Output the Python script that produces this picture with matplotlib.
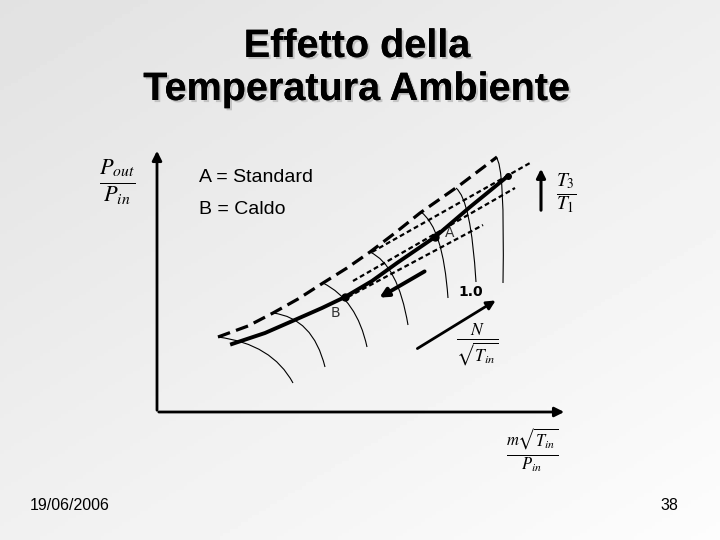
import numpy as np
import matplotlib.pyplot as plt
import matplotlib.patheffects as pe
from matplotlib.path import Path
from matplotlib.patches import PathPatch

plt.rcParams['mathtext.fontset'] = 'stix'

# schematic, in slide pixels (x right, y down)
surge_x = [218, 248, 273, 298, 323, 347, 370, 395, 420, 460, 497]
surge_y = [337, 326, 313, 299, 283, 268, 252, 233, 213, 185, 157]

running_x = [232, 265, 297, 322, 345, 372, 397, 435, 470, 508]
running_y = [344, 333, 319, 308, 297, 281, 263, 237, 207, 176]

# running lines for other T3/T1 (short dashes)
hot_lines = [
    ([372, 530], [252, 163]),
    ([353, 515], [281, 188]),
    ([348, 483], [297, 225]),
]

# constant speed lines: start, control, end
speed_lines = [
    [(218, 337), (272, 344), (293, 383)],
    [(273, 313), (313, 318), (325, 367)],
    [(323, 283), (357, 300), (367, 347)],
    [(370, 252), (398, 265), (408, 325)],
    [(421, 212), (443, 228), (448, 298)],
    [(456, 188), (471, 200), (476, 282)],
    [(496, 157), (505, 165), (503, 283)],
]

points = {'B': (345, 297), 'A': (435, 237)}

fig = plt.figure(figsize=(7.2, 5.4), dpi=100)
ax = fig.add_axes([0, 0, 1, 1])
ax.set_xlim(0, 720)
ax.set_ylim(540, 0)
ax.axis('off')

# light grey slide background
gx, gy = np.meshgrid(np.linspace(0, 1, 200), np.linspace(0, 1, 150))
grad = 0.885 + 0.105 * (0.45 * gx + 0.55 * gy)
ax.imshow(grad, cmap='gray', vmin=0, vmax=1, extent=[0, 720, 540, 0],
          aspect='auto', zorder=0)

# title
shadow = [pe.withSimplePatchShadow(offset=(1.5, -1.5), shadow_rgbFace='#aaaaaa', alpha=0.6),
          pe.Normal()]
for txt, y in [('Effetto della', 46), ('Temperatura Ambiente', 89)]:
    ax.text(357, y, txt, ha='center', va='center', fontsize=28.5, fontweight='bold',
            family='Liberation Sans', path_effects=shadow)

# axes
ax.annotate('', xy=(157, 148), xytext=(157, 413),
            arrowprops=dict(arrowstyle='-|>', lw=2, color='black', mutation_scale=14))
ax.annotate('', xy=(567, 412), xytext=(156, 412),
            arrowprops=dict(arrowstyle='-|>', lw=2, color='black', mutation_scale=14))

ax.text(117, 182, r'$\frac{P_{out}}{P_{in}}$', fontsize=23, ha='center', va='center')
ax.text(532, 450, r'$\frac{m\sqrt{T_{in}}}{P_{in}}$', fontsize=17, ha='center', va='center')
ax.text(477, 345, r'$\frac{N}{\sqrt{T_{in}}}$', fontsize=18, ha='center', va='center')
ax.text(566, 193, r'$\frac{T_3}{T_1}$', fontsize=20, ha='center', va='center')

ax.text(199, 178, 'A = Standard', fontsize=14, family='Liberation Sans', va='center')
ax.text(199, 209, 'B = Caldo', fontsize=14, family='Liberation Sans', va='center')

# constant speed lines
for p0, p1, p2 in speed_lines:
    path = Path([p0, p1, p2], [Path.MOVETO, Path.CURVE3, Path.CURVE3])
    ax.add_patch(PathPatch(path, fill=False, lw=0.8, color='black', zorder=2))

# surge line
ax.plot(surge_x, surge_y, color='black', lw=2.3, linestyle=(0, (4, 2)),
        solid_capstyle='butt', zorder=3)

# other running lines
for xs, ys in hot_lines:
    ax.plot(xs, ys, color='black', lw=1.6, linestyle=(0, (2.2, 1.4)), zorder=3)

# running line
ax.plot(running_x, running_y, color='black', lw=2.8, zorder=4)
for name, (px, py) in points.items():
    ax.plot(px, py, 'o', color='black', ms=5, zorder=5)
ax.plot(running_x[-1], running_y[-1], 'o', color='black', ms=4, zorder=5)
ax.text(450, 233, 'A', fontsize=10, color='#333333', ha='center', va='center')
ax.text(335, 313, 'B', fontsize=10, color='#333333', ha='center', va='center')
ax.text(471, 292, '1.0', fontsize=10, fontweight='bold', ha='center', va='center')

# movement from A to B
ax.annotate('', xy=(377, 299), xytext=(427, 270),
            arrowprops=dict(arrowstyle='-|>', lw=2.8, color='black', mutation_scale=13))
# speed increase
ax.annotate('', xy=(498, 299), xytext=(415, 350),
            arrowprops=dict(arrowstyle='-|>', lw=2, color='black', mutation_scale=13))
# T3/T1 increase
ax.annotate('', xy=(541, 166), xytext=(541, 213),
            arrowprops=dict(arrowstyle='-|>', lw=2.2, color='black', mutation_scale=13))

# footer
footer_font = ['Liberation Sans Narrow', 'DejaVu Sans Condensed', 'Liberation Sans']
ax.text(70, 505, '19/06/2006', fontsize=11.5, ha='center', va='center',
        family=footer_font)
ax.text(669, 505, '38', fontsize=11.5, ha='center', va='center', family=footer_font)

fig.savefig('out.png', dpi=100)
